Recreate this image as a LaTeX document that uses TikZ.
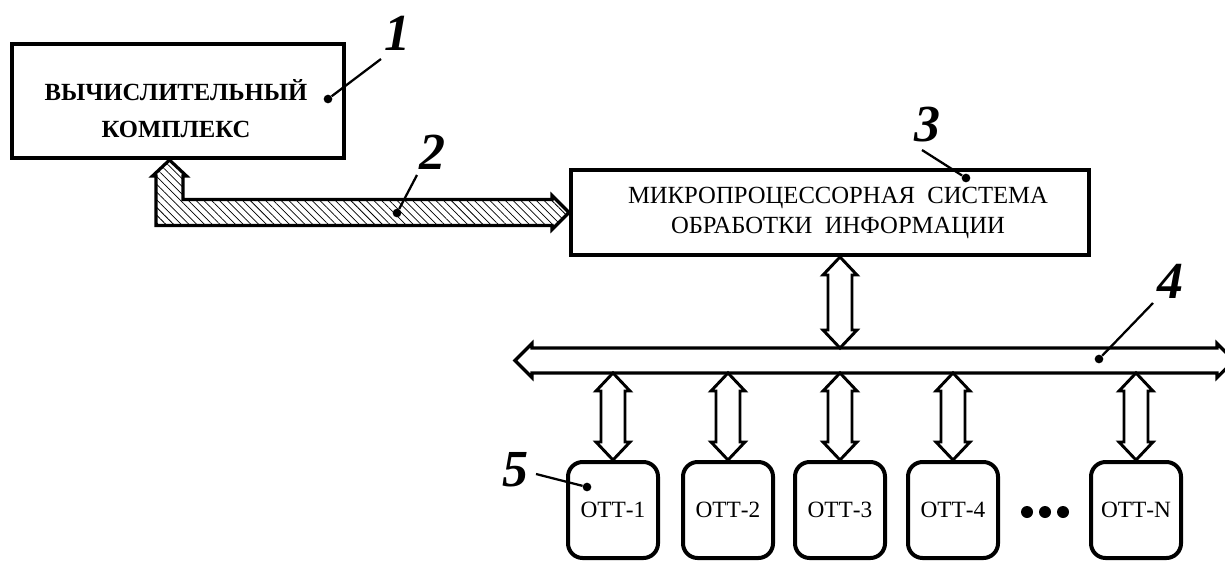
\documentclass[tikz,border=0pt]{standalone}
\usepackage{fontspec}
\setmainfont{Liberation Serif}
\usetikzlibrary{calc,patterns.meta}
\newcommand\vdblarr[2]{%
  \path[dblarr] let \p1=(#1), \p2=(#2) in
    (\x1,\y1) -- (\x1+12.75pt,\y1-13.5pt) -- (\x1+9pt,\y1-13.5pt) -- (\x1+9pt,\y2+13.5pt)
    -- (\x1+12.75pt,\y2+13.5pt) -- (\x1,\y2) -- (\x1-12.75pt,\y2+13.5pt) -- (\x1-9pt,\y2+13.5pt)
    -- (\x1-9pt,\y1-13.5pt) -- (\x1-12.75pt,\y1-13.5pt) -- cycle;}
\begin{document}
\begin{tikzpicture}[x=0.75pt,y=-0.75pt,
  blk/.style={draw, line width=3pt, inner sep=0pt},
  ott/.style={draw, line width=3pt, rounded corners=11pt, minimum width=67.5pt,
    minimum height=72pt, inner sep=0pt, font=\fontsize{17.5}{20}\selectfont},
  dblarr/.style={draw, line width=2.2pt, fill=white, line join=miter},
  busline/.style={draw, line width=2.4pt, fill=white, line join=miter},
  hatch/.style={draw, line width=2.4pt, line join=miter,
    pattern={Lines[angle=-45,distance=4.1pt,line width=0.55pt]}},
  num/.style={font=\bfseries\itshape\fontsize{39}{40}\selectfont, inner sep=0pt},
  dotpt/.style={circle, fill, inner sep=0pt, minimum size=6.5pt},
  lead/.style={line width=1.7pt},
  bigdot/.style={circle, fill, inner sep=0pt, minimum size=9pt}]
\useasboundingbox (0,0) rectangle (1225,561);
\clip (0,0) rectangle (1225,561);

% block 1
\node[blk, minimum width=249pt, minimum height=85.5pt] (b1) at (178,101) {};
\node[font=\bfseries\fontsize{18.5}{27.75}\selectfont, align=center, inner sep=0pt] (t1) at (176,109)
  {ВЫЧИСЛИТЕЛЬНЫЙ\\КОМПЛЕКС};

% block 3
\node[blk, minimum width=388.5pt, minimum height=63.75pt] (b3) at (830,212.5) {};
\node[font=\fontsize{18.5}{22.5}\selectfont, align=center, inner sep=0pt] (t3) at (838,213)
  {МИКРОПРОЦЕССОРНАЯ\ \ СИСТЕМА\\ОБРАБОТКИ\ \ ИНФОРМАЦИИ};

% hatched interface 2
\path[hatch] let \p1=($(b1.south)+(-8.5,0)$), \p2=(b3.west) in
  (\x1,\y1) -- (\x1+12.75pt,\y1-12pt) -- (\x1+10.125pt,\y1-12pt) -- (\x1+10.125pt,\y2+9.75pt)
  -- (\x2-12.75pt,\y2+9.75pt) -- (\x2-12.75pt,\y2+12.75pt) -- (\x2,\y2)
  -- (\x2-12.75pt,\y2-12.75pt) -- (\x2-12.75pt,\y2-9.75pt) -- (\x1-10.125pt,\y2-9.75pt)
  -- (\x1-10.125pt,\y1-12pt) -- (\x1-12.75pt,\y1-12pt) -- cycle;

% bus 4
\coordinate (busT) at (0,348);
\coordinate (busB) at (0,373);
\path[busline] (515,360.5) -- (532,343.5) -- (532,348) -- (1217,348) -- (1217,343.5)
  -- (1234,360.5) -- (1217,377.5) -- (1217,373) -- (532,373) -- (532,377.5) -- cycle;

% terminals
\node[ott] (o1) at (613,510) {ОТТ-1};
\node[ott] (o2) at (728,510) {ОТТ-2};
\node[ott] (o3) at (840,510) {ОТТ-3};
\node[ott] (o4) at (953,510) {ОТТ-4};
\node[ott] (oN) at (1136,510) {ОТТ-N};
\node[bigdot] (e1) at (1027,512) {};
\node[bigdot] (e2) at (1045,512) {};
\node[bigdot] (e3) at (1063,512) {};

% double arrows
\vdblarr{b3.south -| o3.north}{busT -| o3.north}
\vdblarr{busB -| o1.north}{o1.north}
\vdblarr{busB -| o2.north}{o2.north}
\vdblarr{busB -| o3.north}{o3.north}
\vdblarr{busB -| o4.north}{o4.north}
\vdblarr{busB -| oN.north}{oN.north}

% reference numbers
\node[num] (n1) at (397,33) {1};
\node[dotpt] (d1) at (328,99) {};
\coordinate (l1) at (381,59);
\draw[lead] (l1) -- (d1);

\node[num] (n2) at (432,152) {2};
\node[dotpt] (d2) at (397,213) {};
\coordinate (l2) at (417,175);
\draw[lead] (l2) -- (d2);

\node[num] (n3) at (927,125) {3};
\node[dotpt] (d3) at (966,178) {};
\coordinate (l3) at (922,150);
\draw[lead] (l3) -- (d3);

\node[num] (n4) at (1170,281) {4};
\node[dotpt] (d4) at (1099,359) {};
\coordinate (l4) at (1153,303);
\draw[lead] (l4) -- (d4);

\node[num] (n5) at (515,470) {5};
\node[dotpt] (d5) at (587,487) {};
\coordinate (l5) at (536,474);
\draw[lead] (l5) -- (d5);
\end{tikzpicture}
\end{document}
